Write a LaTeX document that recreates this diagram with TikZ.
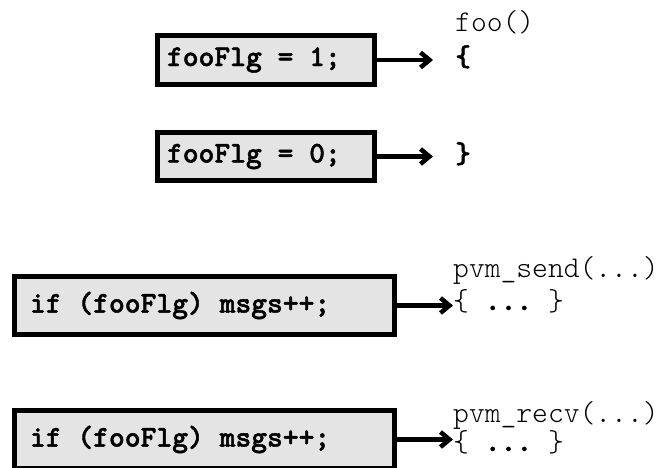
\documentclass[tikz,border=0pt]{standalone}
\usepackage{fontspec}
\setmonofont{lmmonolt10-regular.otf}[BoldFont=lmmonolt10-bold.otf, BoldFeatures={FakeBold=1.5}, WordSpace={1,0,0}]
\usetikzlibrary{arrows.meta}
\definecolor{boxgray}{RGB}{228,228,228}
\newcommand\gap{\hphantom{0}}
\begin{document}
\begin{tikzpicture}[x=1pt,y=-1pt,
  flagbox/.style={draw, line width=5.5pt, fill=boxgray, align=left, inner ysep=0pt,
    font=\ttfamily\bfseries\fontsize{30.1}{34}\selectfont},
  code/.style={inner sep=0pt, anchor=base west,
    font=\ttfamily\fontsize{30.1}{34}\selectfont},
  hook/.style={line width=4.5pt, -{Straight Barb[length=9pt,width=15pt]}}]
\useasboundingbox (0,0) rectangle (664,468);
\node[flagbox, inner xsep=9.5pt, text width=198pt, minimum height=49pt] (set) at (266,60) {fooFlg\gap=\gap1;};
\node[flagbox, inner xsep=9.5pt, text width=198pt, minimum height=48pt] (reset) at (266,156.5) {fooFlg\gap=\gap0;};
\node[flagbox, inner xsep=15.5pt, text width=349pt, minimum height=58pt] (sendchk) at (204.5,305.5) {if\gap(fooFlg)\gap{}msgs++;};
\node[flagbox, inner xsep=15.5pt, text width=349pt, minimum height=58pt] (recvchk) at (204.5,439.5) {if\gap(fooFlg)\gap{}msgs++;};
\node[code] (foo) at (455,32) {foo()};
\node[code, font=\ttfamily\bfseries\fontsize{30.1}{34}\selectfont] (open) at (455,66) {\{};
\node[code, font=\ttfamily\bfseries\fontsize{30.1}{34}\selectfont] (close) at (455,163) {\}};
\node[code] (send) at (453,277) {pvm\_send(...)};
\node[code] (sendbody) at (453,310) {\{\gap\textbf{...}\gap\}};
\node[code] (recv) at (453,422) {pvm\_recv(...)};
\node[code] (recvbody) at (453,451) {\{\gap\textbf{...}\gap\}};
\draw[hook, shorten >=22pt] (set.east) -- (set.east -| open.west);
\draw[hook, shorten >=22pt] (reset.east) -- (reset.east -| close.west);
\draw[hook] (sendchk.east) -- (sendchk.east -| sendbody.west);
\draw[hook] (recvchk.east) -- (recvchk.east -| recvbody.west);
\end{tikzpicture}
\end{document}
